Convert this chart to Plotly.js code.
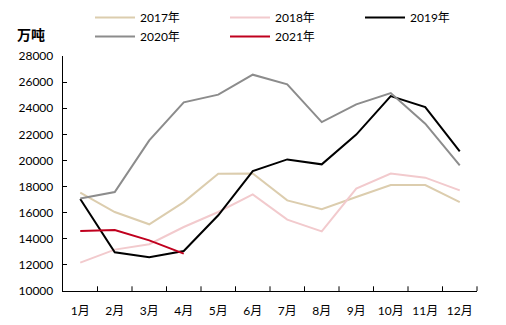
<!DOCTYPE html>
<html>
<head>
<meta charset="utf-8">
<script src="https://cdn.plot.ly/plotly-3.0.1.min.js"></script>
<style>
html,body{margin:0;padding:0;background:#fff;}
#chart{width:506px;height:325px;}
</style>
</head>
<body>
<div id="chart"></div>
<script>
const months = ["1月","2月","3月","4月","5月","6月","7月","8月","9月","10月","11月","12月"];
const y2017 = [17530,16050,15110,16810,18990,19000,16940,16260,17200,18120,18120,16810];
const y2018 = [12170,13170,13580,14900,16050,17400,15470,14570,17840,18990,18680,17710];
const y2019 = [17050,12960,12580,13060,15800,19190,20080,19700,21980,24930,24090,20700];
const y2020 = [17080,17580,21540,24450,25040,26570,25830,22940,24300,25160,22820,19620];
const y2021 = [14600,14670,13880,12860];
const yTicks = [10000,12000,14000,16000,18000,20000,22000,24000,26000,28000];

const font = "Lato, 'Noto Sans CJK SC', sans-serif";
function tr(name, y, color, lg){
  return {x: months.slice(0, y.length), y: y, name: name, type: "scatter", mode: "lines",
          line: {color: color, width: 2}, legend: lg};
}
const data = [
  tr("2017年", y2017, "#DCCDAE", "legend"),
  tr("2018年", y2018, "#F2CACD", "legend"),
  tr("2019年", y2019, "#000000", "legend"),
  tr("2020年", y2020, "#8C8C8C", "legend2"),
  tr("2021年", y2021, "#C0001E", "legend2")
];
function legendAt(topPx){
  return {orientation: "h", x: 90/506, xanchor: "left", y: 1 - topPx/325, yanchor: "top",
          xref: "container", yref: "container",
          entrywidth: 80, entrywidthmode: "pixels",
          font: {family: font, size: 12, color: "#000"}, itemwidth: 40, tracegroupgap: 0,
          bgcolor: "rgba(0,0,0,0)"};
}
const layout = {
  width: 506, height: 325,
  margin: {l: 63, r: 29, t: 56, b: 34, pad: 0, autoexpand: false},
  paper_bgcolor: "#fff", plot_bgcolor: "#fff",
  font: {family: font, size: 12, color: "#000"},
  showlegend: true,
  legend: legendAt(3),
  legend2: legendAt(22),
  xaxis: {type: "category", range: [-0.5, 11.5], showgrid: false, zeroline: false,
          showline: true, linecolor: "#000", linewidth: 1.3,
          ticks: "", tickfont: {family: font, size: 12}, ticklabelstandoff: 8, fixedrange: true},
  yaxis: {range: [10000, 28000], tickvals: yTicks, ticktext: yTicks.map(String),
          showgrid: false, zeroline: false, showline: true, linecolor: "#000", linewidth: 1.3,
          ticks: "inside", ticklen: 4, tickcolor: "#000", tickwidth: 1,
          tickfont: {family: font, size: 12}, ticklabelstandoff: 6},
  annotations: [{text: "<b>万吨</b>", xref: "paper", yref: "paper", x: (31 - 63) / 414, y: (290.7 - 34) / 235,
                 xanchor: "center", yanchor: "middle", showarrow: false,
                 font: {family: "'Noto Sans CJK SC', sans-serif", size: 14, color: "#000"}}],
  shapes: months.slice(0, 11).map((m, i) => ({type: "line", xref: "x", yref: "paper",
          x0: i + 0.5, x1: i + 0.5, y0: 0, y1: 0.02, line: {color: "#000", width: 1}})).concat(
          [{type: "line", xref: "paper", yref: "paper", x0: 1, x1: 1, y0: 0, y1: 0.02, line: {color: "#000", width: 1}}])
};
Plotly.newPlot("chart", data, layout, {displayModeBar: false, staticPlot: true});
</script>
</body>
</html>
